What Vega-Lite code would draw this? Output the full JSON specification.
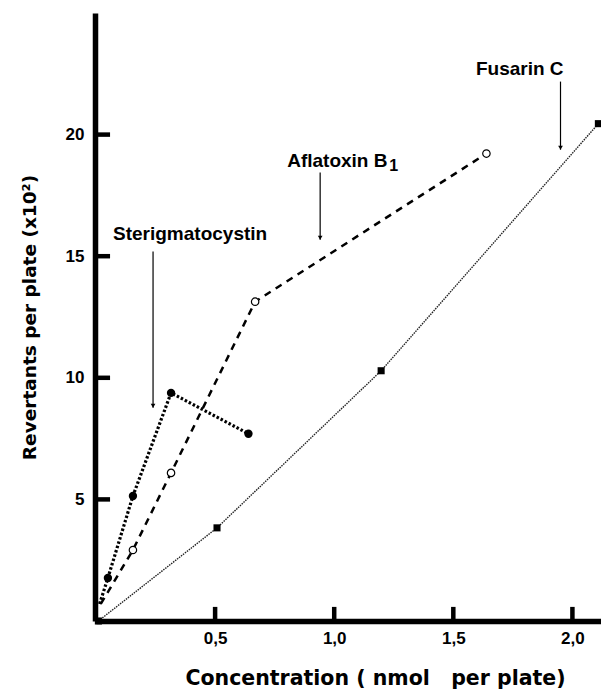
{
  "$schema": "https://vega.github.io/schema/vega-lite/v6.json",
  "width": 505,
  "height": 608,
  "autosize": {"type": "none"},
  "padding": {"left": 96, "top": 13, "right": 0, "bottom": 74},
  "background": "white",
  "config": {
    "view": {"stroke": null},
    "font": "Liberation Sans",
    "axis": {
      "grid": false,
      "domainColor": "black",
      "domainWidth": 5.5,
      "ticks": false,
      "labelFont": "Liberation Sans",
      "labelFontWeight": "bold",
      "labelFontSize": 17,
      "labelColor": "black",
      "titleFont": "DejaVu Sans",
      "titleFontWeight": "bold",
      "titleColor": "black"
    }
  },
  "datasets": {
    "series": [
      {"series": "Sterigmatocystin", "x": 0.015, "y": 0.7},
      {"series": "Sterigmatocystin", "x": 0.05, "y": 1.77},
      {"series": "Sterigmatocystin", "x": 0.155, "y": 5.14},
      {"series": "Sterigmatocystin", "x": 0.315, "y": 9.38},
      {"series": "Sterigmatocystin", "x": 0.64, "y": 7.7},
      {"series": "Aflatoxin B1", "x": 0.02, "y": 0.7},
      {"series": "Aflatoxin B1", "x": 0.155, "y": 2.92},
      {"series": "Aflatoxin B1", "x": 0.315, "y": 6.09},
      {"series": "Aflatoxin B1", "x": 0.668, "y": 13.13},
      {"series": "Aflatoxin B1", "x": 1.639, "y": 19.22},
      {"series": "Fusarin C", "x": 0.01, "y": 0.0},
      {"series": "Fusarin C", "x": 0.508, "y": 3.83},
      {"series": "Fusarin C", "x": 1.197, "y": 10.29},
      {"series": "Fusarin C", "x": 2.109, "y": 20.45}
    ],
    "labels": [
      {"label": "Sterigmatocystin", "x": 0.395, "y": 15.68, "ax": 0.2395, "ytop": 15.19, "ybot": 8.77},
      {"label": "Fusarin C", "x": 1.779, "y": 22.47, "ax": 1.95, "ytop": 22.18, "ybot": 19.38}
    ],
    "afla": [
      {"label": "Aflatoxin B", "sub": "1", "x": 0.8025, "y": 18.68, "ax": 0.941, "ytop": 18.44, "ybot": 15.68}
    ],
    "ytk": [{"val": 5}, {"val": 10}, {"val": 15}, {"val": 20}],
    "xtk": [{"val": 0.5}, {"val": 1.0}, {"val": 1.5}, {"val": 2.0}]
  },
  "layer": [
    {
      "data": {"name": "series"},
      "transform": [{"filter": "datum.series === 'Fusarin C'"}],
      "mark": {"type": "line", "color": "#222222", "strokeWidth": 1.4, "strokeDash": [1.5, 1]},
      "encoding": {
        "x": {
          "field": "x", "type": "quantitative",
          "scale": {"domain": [0, 2.12], "nice": false, "zero": false},
          "axis": {
            "values": [0.5, 1, 1.5, 2],
            "labelExpr": "replace(format(datum.value, '.1f'), '.', ',')",
            "title": "Concentration ( nmol\u00a0\u00a0\u00a0per plate)",
            "titleFontSize": 20.5,
            "titlePadding": 22,
            "titleX": 279,
            "labelPadding": 9,
            "offset": 0
          }
        },
        "y": {
          "field": "y", "type": "quantitative",
          "scale": {"domain": [0, 25], "nice": false},
          "axis": {
            "values": [5, 10, 15, 20],
            "title": "Revertants per plate (x10²)",
            "titleFontSize": 18.5,
            "titlePadding": 26,
            "labelPadding": 11,
            "offset": 1
          }
        }
      }
    },
    {
      "data": {"name": "ytk"},
      "transform": [{"calculate": "0", "as": "t0"}, {"calculate": "0.059", "as": "t1"}],
      "mark": {"type": "rule", "color": "black", "strokeWidth": 4.5},
      "encoding": {
        "y": {"field": "val", "type": "quantitative"},
        "x": {"field": "t0", "type": "quantitative"},
        "x2": {"field": "t1"}
      }
    },
    {
      "data": {"name": "xtk"},
      "transform": [{"calculate": "0", "as": "t0"}, {"calculate": "0.58", "as": "t1"}],
      "mark": {"type": "rule", "color": "black", "strokeWidth": 4.5},
      "encoding": {
        "x": {"field": "val", "type": "quantitative"},
        "y": {"field": "t0", "type": "quantitative"},
        "y2": {"field": "t1"}
      }
    },
    {
      "data": {"name": "series"},
      "transform": [{"filter": "datum.series === 'Fusarin C'"}],
      "mark": {"type": "square", "color": "black", "filled": true, "size": 50, "opacity": 1},
      "encoding": {
        "x": {"field": "x", "type": "quantitative"},
        "y": {"field": "y", "type": "quantitative"}
      }
    },
    {
      "data": {"name": "series"},
      "transform": [{"filter": "datum.series === 'Aflatoxin B1'"}],
      "mark": {"type": "line", "color": "black", "strokeWidth": 2.5, "strokeDash": [7, 6]},
      "encoding": {
        "x": {"field": "x", "type": "quantitative"},
        "y": {"field": "y", "type": "quantitative"}
      }
    },
    {
      "data": {"name": "series"},
      "transform": [{"filter": "datum.series === 'Aflatoxin B1' && datum.x > 0.1"}],
      "mark": {"type": "point", "shape": "circle", "color": "black", "fill": "white", "filled": false, "strokeWidth": 1.2, "size": 55, "opacity": 1, "fillOpacity": 1},
      "encoding": {
        "x": {"field": "x", "type": "quantitative"},
        "y": {"field": "y", "type": "quantitative"}
      }
    },
    {
      "data": {"name": "series"},
      "transform": [{"filter": "datum.series === 'Sterigmatocystin'"}],
      "mark": {"type": "line", "color": "black", "strokeWidth": 3.2, "strokeDash": [2.5, 2]},
      "encoding": {
        "x": {"field": "x", "type": "quantitative"},
        "y": {"field": "y", "type": "quantitative"}
      }
    },
    {
      "data": {"name": "series"},
      "transform": [{"filter": "datum.series === 'Sterigmatocystin' && datum.x > 0.03"}],
      "mark": {"type": "circle", "color": "black", "size": 70, "opacity": 1},
      "encoding": {
        "x": {"field": "x", "type": "quantitative"},
        "y": {"field": "y", "type": "quantitative"}
      }
    },
    {
      "data": {"name": "labels"},
      "mark": {"type": "text", "fontSize": 19, "fontWeight": "bold", "font": "Liberation Sans", "color": "black", "align": "center", "baseline": "alphabetic"},
      "encoding": {
        "x": {"field": "x", "type": "quantitative"},
        "y": {"field": "y", "type": "quantitative"},
        "text": {"field": "label"}
      }
    },
    {
      "data": {"name": "afla"},
      "mark": {"type": "text", "fontSize": 19, "fontWeight": "bold", "font": "Liberation Sans", "color": "black", "align": "left", "baseline": "alphabetic"},
      "encoding": {
        "x": {"field": "x", "type": "quantitative"},
        "y": {"field": "y", "type": "quantitative"},
        "text": {"field": "label"}
      }
    },
    {
      "data": {"name": "afla"},
      "mark": {"type": "text", "fontSize": 16, "fontWeight": "bold", "font": "Liberation Sans", "color": "black", "align": "left", "baseline": "alphabetic", "dx": 102, "dy": 4},
      "encoding": {
        "x": {"field": "x", "type": "quantitative"},
        "y": {"field": "y", "type": "quantitative"},
        "text": {"field": "sub"}
      }
    },
    {
      "data": {"name": "labels"},
      "mark": {"type": "rule", "color": "black", "strokeWidth": 1.2},
      "encoding": {
        "x": {"field": "ax", "type": "quantitative"},
        "y": {"field": "ytop", "type": "quantitative"},
        "y2": {"field": "ybot"}
      }
    },
    {
      "data": {"name": "afla"},
      "mark": {"type": "rule", "color": "black", "strokeWidth": 1.2},
      "encoding": {
        "x": {"field": "ax", "type": "quantitative"},
        "y": {"field": "ytop", "type": "quantitative"},
        "y2": {"field": "ybot"}
      }
    },
    {
      "data": {"name": "labels"},
      "mark": {"type": "point", "shape": "triangle-down", "filled": true, "color": "black", "size": 22, "opacity": 1, "yOffset": -2},
      "encoding": {
        "x": {"field": "ax", "type": "quantitative"},
        "y": {"field": "ybot", "type": "quantitative"}
      }
    },
    {
      "data": {"name": "afla"},
      "mark": {"type": "point", "shape": "triangle-down", "filled": true, "color": "black", "size": 22, "opacity": 1, "yOffset": -2},
      "encoding": {
        "x": {"field": "ax", "type": "quantitative"},
        "y": {"field": "ybot", "type": "quantitative"}
      }
    }
  ]
}
